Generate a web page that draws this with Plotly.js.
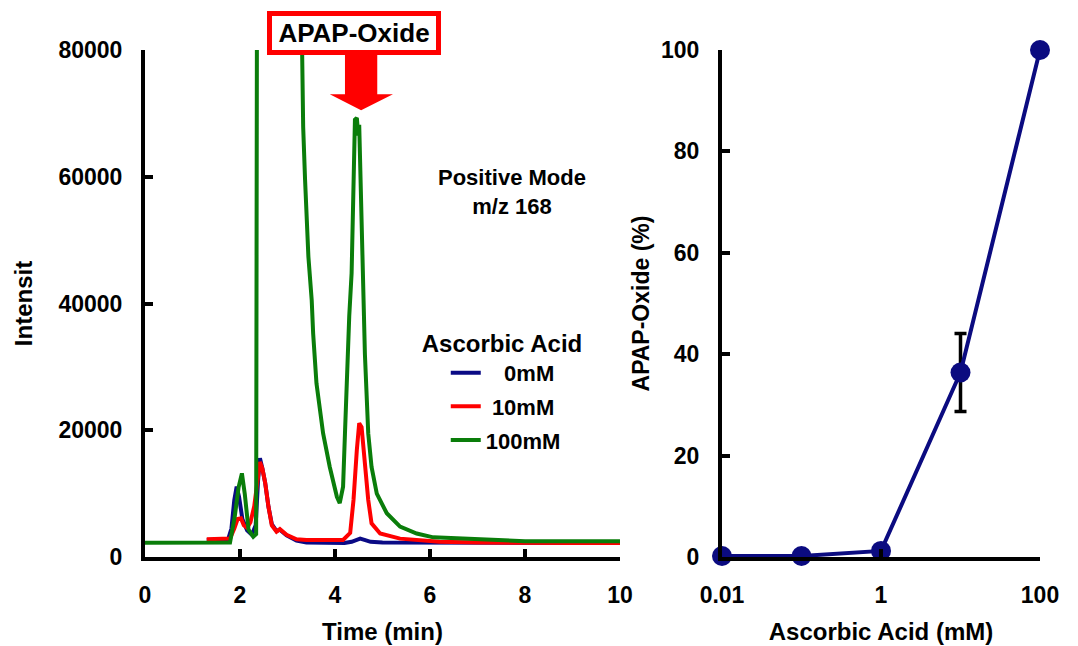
<!DOCTYPE html>
<html>
<head>
<meta charset="utf-8">
<script src="https://cdn.plot.ly/plotly-3.0.1.min.js"></script>
<style>html,body{margin:0;padding:0;background:#fff;}#chart{width:1078px;height:646px;}</style>
</head>
<body>
<div id="chart"></div>
<script>
// ---- Chromatogram (left panel) ----
const seriesNames = ["\u00a0\u00a0\u00a00mM", "\u00a010mM", "100mM"];

const time0mM = [1.3, 1.6, 1.75, 1.82, 1.88, 1.93, 1.98, 2.05, 2.15, 2.25, 2.33, 2.38, 2.42, 2.47, 2.53, 2.6, 2.67, 2.77, 2.84, 2.98, 3.19, 3.4, 3.8, 4.2, 4.35, 4.45, 4.53, 4.62, 4.75, 5.0, 5.4, 5.8, 7.0, 8.5, 10];
const int0mM  = [2700, 2700, 2800, 4500, 9000, 11100, 9500, 6000, 4200, 3500, 5000, 12000, 15600, 14000, 11700, 7900, 5200, 4100, 4300, 3400, 2600, 2300, 2200, 2200, 2400, 2700, 2900, 2700, 2400, 2300, 2300, 2200, 2200, 2200, 2200];

const time10mM = [1.3, 1.6, 1.79, 1.88, 1.95, 2.02, 2.08, 2.15, 2.22, 2.3, 2.36, 2.42, 2.47, 2.53, 2.6, 2.67, 2.77, 2.84, 2.98, 3.19, 3.4, 3.8, 4.17, 4.32, 4.39, 4.46, 4.51, 4.56, 4.63, 4.7, 4.77, 4.95, 5.37, 5.65, 6.2, 7, 8, 9, 10];
const int10mM  = [2800, 2800, 2900, 4500, 6000, 6100, 5000, 4600, 5500, 8000, 12000, 15000, 14000, 11700, 7900, 5000, 4000, 4400, 3500, 2800, 2700, 2700, 2700, 3800, 9000, 16900, 21100, 20500, 14200, 9000, 5300, 3700, 2900, 2700, 2400, 2300, 2200, 2200, 2200];

const time100mM = [0, 1.0, 1.79, 1.89, 1.97, 2.04, 2.1, 2.18, 2.28, 2.34, 2.38, 2.45, 3.2, 3.28, 3.3, 3.33, 3.37, 3.4, 3.44, 3.51, 3.54, 3.61, 3.75, 3.89, 4.04, 4.1, 4.17, 4.21, 4.25, 4.3, 4.35, 4.39, 4.42, 4.46, 4.49, 4.51, 4.53, 4.56, 4.58, 4.63, 4.7, 4.77, 4.88, 5.09, 5.37, 5.72, 6.07, 6.4, 7, 8, 9, 10];
const int100mM  = [2260, 2260, 2300, 6400, 11000, 13200, 10000, 4300, 3200, 3600, 200000, 200000, 200000, 95000, 79500, 67900, 59500, 53200, 47400, 40500, 35300, 27400, 19500, 14200, 9500, 8500, 11100, 19500, 30000, 38000, 44800, 60600, 69000, 69300, 66500, 68200, 62000, 52700, 44800, 32000, 19500, 14200, 10000, 6900, 4800, 3700, 3100, 3000, 2800, 2500, 2500, 2500];

// ---- Dose response (right panel) ----
const ascorbicConc = [0.01, 0.1, 1, 10, 100];
const apapOxidePct = [0.2, 0.2, 1.2, 36.4, 100];
const apapOxideErr = [0, 0, 0, 7.7, 0];

// ---- Tick labels ----
const timeTicks = [0, 2, 4, 6, 8, 10];
const intensityTicks = [0, 20000, 40000, 60000, 80000];
const concTickVals = [0.01, 1, 100];
const concTickText = ["0.01", "1", "100"];
const pctTicks = [0, 20, 40, 60, 80, 100];

const FONT = "Liberation Sans, Arial, sans-serif";
const tickFont = {family: FONT, size: 23, color: "black", weight: "bold"};
const titleFont = {family: FONT, size: 24, color: "black", weight: "bold"};

function axisStyle(extra) {
  return Object.assign({
    showline: true, linecolor: "black", linewidth: 4,
    ticks: "inside", ticklen: 8, tickwidth: 4, tickcolor: "black",
    showgrid: false, zeroline: false, tickfont: tickFont,
    ticklabelstandoff: 14, fixedrange: true
  }, extra);
}

const traces = [
  {x: time0mM, y: int0mM, name: seriesNames[0], type: "scatter", mode: "lines",
   line: {color: "#0a0a85", width: 4}, xaxis: "x", yaxis: "y", legendgroup: "a"},
  {x: time10mM, y: int10mM, name: seriesNames[1], type: "scatter", mode: "lines",
   line: {color: "#ff0000", width: 4}, xaxis: "x", yaxis: "y", legendgroup: "b"},
  {x: time100mM, y: int100mM, name: seriesNames[2], type: "scatter", mode: "lines",
   line: {color: "#0a7d0a", width: 4}, xaxis: "x", yaxis: "y", legendgroup: "c"},
  {x: ascorbicConc, y: apapOxidePct, type: "scatter", mode: "lines+markers",
   line: {color: "#0b0b80", width: 4}, marker: {color: "#0b0b80", size: 20},
   error_y: {type: "data", array: apapOxideErr, visible: true, color: "black", thickness: 3.5, width: 6},
   xaxis: "x2", yaxis: "y2", showlegend: false, cliponaxis: false}
];

const layout = {
  width: 1078, height: 646,
  margin: {l: 145, r: 38, t: 50, b: 89},
  paper_bgcolor: "white", plot_bgcolor: "white",
  showlegend: true,
  legend: {
    x: 0.307, y: 0.466, xanchor: "left", yanchor: "top",
    bgcolor: "rgba(0,0,0,0)", borderwidth: 0,
    font: {family: FONT, size: 22, color: "black", weight: "bold"},
    title: {text: "Ascorbic Acid", font: {family: FONT, size: 24, color: "black", weight: "bold"}},
    indentation: 26, tracegroupgap: 2, traceorder: "grouped"
  },
  xaxis: axisStyle({domain: [0, 0.5307], range: [0, 10], tickvals: timeTicks, anchor: "y",
    title: {text: "Time (min)", font: titleFont, standoff: 18}}),
  yaxis: axisStyle({domain: [0, 1], range: [0, 80000], tickvals: intensityTicks, tickformat: "d", anchor: "x",
    title: {text: "Intensit", font: titleFont, standoff: 20}}),
  xaxis2: axisStyle({domain: [0.6447, 1], type: "log", range: [-2, 2], tickvals: concTickVals, ticktext: concTickText, anchor: "y2",
    title: {text: "Ascorbic Acid (mM)", font: titleFont, standoff: 18}}),
  yaxis2: axisStyle({domain: [0, 1], range: [0, 100], tickvals: pctTicks, anchor: "x2",
    title: {text: "APAP-Oxide (%)", font: {family: FONT, size: 23, color: "black", weight: "bold"}, standoff: 6}}),
  annotations: [
    {text: "APAP-Oxide", xref: "paper", yref: "paper", x: 0.2335, y: 1.0335,
     xanchor: "center", yanchor: "middle", showarrow: false,
     font: {family: FONT, size: 26, color: "black", weight: "bold"},
     bgcolor: "white", bordercolor: "#ff0000", borderwidth: 5, borderpad: 0,
     width: 164, height: 34},
    {text: "Positive Mode<br>m/z 168", xref: "paper", yref: "paper", x: 0.41, y: 0.72,
     xanchor: "center", yanchor: "middle", showarrow: false,
     font: {family: FONT, size: 22, color: "black", weight: "bold"}}
  ],
  shapes: [
    {type: "path", xref: "x", yref: "y", fillcolor: "#ff0000", line: {width: 0},
     path: "M4.21,79300 L4.89,79300 L4.89,73000 L5.22,73000 L4.55,70500 L3.89,73000 L4.21,73000 Z"}
  ]
};

Plotly.newPlot("chart", traces, layout, {displayModeBar: false, staticPlot: true});
</script>
</body>
</html>
